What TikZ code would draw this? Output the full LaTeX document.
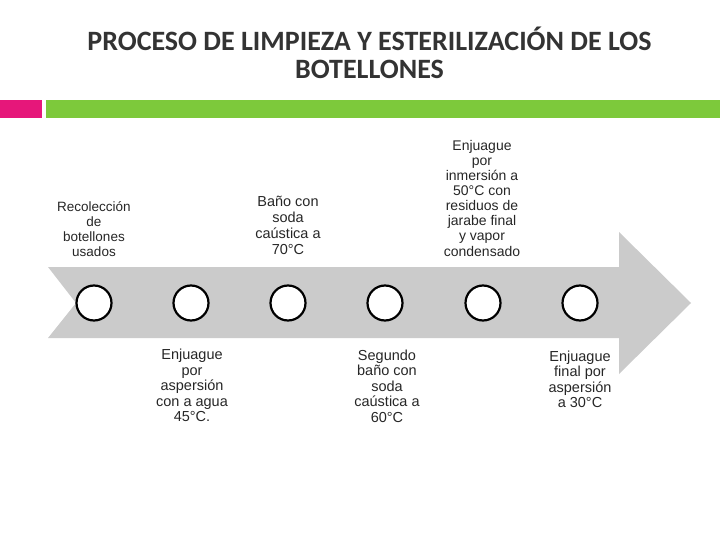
\documentclass[tikz,border=0pt]{standalone}
\usepackage{fontspec}
\setmainfont{Liberation Sans}
\newfontfamily\titlefont{Carlito}
\definecolor{pinkbar}{HTML}{E6177A}
\definecolor{greenbar}{HTML}{7DC93B}
\definecolor{arrowgray}{HTML}{CBCBCB}
\definecolor{titlegray}{HTML}{333333}
\definecolor{labelgray}{HTML}{262626}
\tikzset{
  titletext/.style={align=center, inner sep=0pt, text=titlegray,
    font=\titlefont\bfseries\fontsize{28}{28.3}\selectfont},
  lbl/.style={align=center, inner sep=0pt, text=labelgray, anchor=base},
  lblA/.style={lbl, font=\fontsize{13.5}{14.8}\selectfont},
  lblB/.style={lbl, font=\fontsize{14.5}{16}\selectfont},
  lblC/.style={lbl, font=\fontsize{14}{15.1}\selectfont},
  lblD/.style={lbl, font=\fontsize{14.5}{15.4}\selectfont},
  stepdot/.style={circle, draw=black, line width=2.2pt, fill=white,
    minimum size=35pt, inner sep=0pt}
}
\begin{document}
\begin{tikzpicture}[x=1pt,y=-1pt]
\useasboundingbox (0,0) rectangle (720,540);
% title (base anchor = baseline of last line)
\node[titletext, anchor=base] (title) at (369.5,79)
  {PROCESO DE LIMPIEZA Y ESTERILIZACIÓN DE LOS\\BOTELLONES};
% bars
\fill[pinkbar] (0,100) rectangle (42,118);
\fill[greenbar] (46,100) rectangle (720,118);
% big arrow
\fill[arrowgray] (48,267) -- (619,267) -- (619,232) -- (691,303)
  -- (619,374) -- (619,338) -- (48,338) -- (76,303) -- cycle;
% circles
\node[stepdot] (c1) at (94,303) {};
\node[stepdot] (c2) at (191,303) {};
\node[stepdot] (c3) at (288,303) {};
\node[stepdot] (c4) at (385,303) {};
\node[stepdot] (c5) at (483,303) {};
\node[stepdot] (c6) at (580,303) {};
% labels above
\node[lblA] (l1) at (94,256) {Recolección\\de\\botellones\\usados};
\node[lblB] (l3) at (288,254.3) {Baño con\\soda\\caústica a\\70°C};
\node[lblC] (l5) at (482,256) {Enjuague\\por\\inmersión a\\50°C con\\residuos de\\jarabe final\\y vapor\\condensado};
% labels below
\node[lblD] (l2) at (192,421.5) {Enjuague\\por\\aspersión\\con a agua\\45°C.};
\node[lblD] (l4) at (387,422) {Segundo\\baño con\\soda\\caústica a\\60°C};
\node[lblD] (l6) at (580,407.5) {Enjuague\\final por\\aspersión\\a 30°C};
\end{tikzpicture}
\end{document}
